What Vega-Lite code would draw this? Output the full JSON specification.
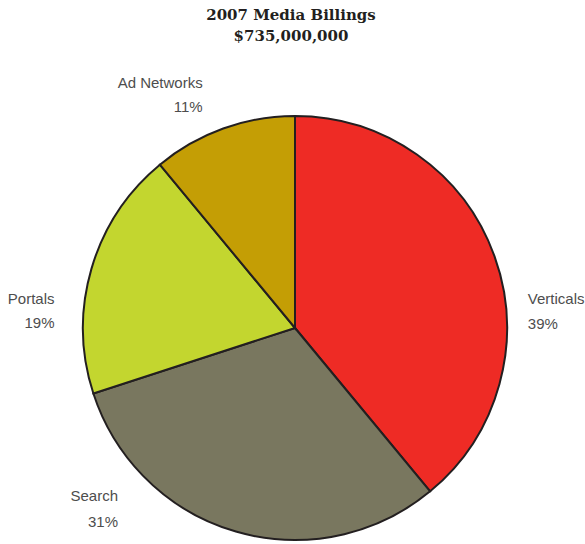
{
  "$schema": "https://vega.github.io/schema/vega-lite/v6.json",
  "autosize": {"type": "none"},
  "width": 580,
  "height": 432,
  "padding": {"left": 5, "top": 112, "right": 0, "bottom": 0},
  "background": "white",
  "title": {
    "text": ["2007 Media Billings", "$735,000,000"],
    "font": "DejaVu Serif",
    "fontWeight": "bold",
    "fontSize": 15,
    "lineHeight": 21,
    "color": "#231f20",
    "offset": -11,
    "dx": -4
  },
  "data": {
    "values": [
      {"name": "Verticals", "share": 0.39},
      {"name": "Search", "share": 0.31},
      {"name": "Portals", "share": 0.19},
      {"name": "Ad Networks", "share": 0.11}
    ]
  },
  "encoding": {
    "theta": {"field": "share", "type": "quantitative", "stack": true},
    "order": {"field": "share", "type": "quantitative", "sort": "descending"}
  },
  "layer": [
    {
      "mark": {"type": "arc", "radius": 212, "stroke": "#231f20", "strokeWidth": 2},
      "encoding": {
        "color": {
          "field": "name",
          "type": "nominal",
          "scale": {
            "domain": ["Verticals", "Search", "Portals", "Ad Networks"],
            "range": ["#ee2b25", "#79775f", "#c3d62f", "#c49e05"]
          },
          "legend": null
        }
      }
    },
    {
      "mark": {"type": "text", "radius": 240, "align": "left", "baseline": "alphabetic", "font": "Liberation Sans", "fontSize": 15, "color": "#4d4d4d", "dx": 7, "dy": 57},
      "encoding": {"text": {"condition": {"test": "datum.name === 'Verticals'", "field": "name"}, "value": ""}}
    },
    {
      "mark": {"type": "text", "radius": 240, "align": "left", "baseline": "alphabetic", "font": "Liberation Sans", "fontSize": 15, "color": "#4d4d4d", "dx": 7, "dy": 82},
      "encoding": {"text": {"condition": {"test": "datum.name === 'Verticals'", "field": "share", "type": "quantitative", "format": ".0%"}, "value": ""}}
    },
    {
      "mark": {"type": "text", "radius": 240, "align": "right", "baseline": "alphabetic", "font": "Liberation Sans", "fontSize": 15, "color": "#4d4d4d", "dx": -110, "dy": -57},
      "encoding": {"text": {"condition": {"test": "datum.name === 'Search'", "field": "name"}, "value": ""}}
    },
    {
      "mark": {"type": "text", "radius": 240, "align": "right", "baseline": "alphabetic", "font": "Liberation Sans", "fontSize": 15, "color": "#4d4d4d", "dx": -110, "dy": -31},
      "encoding": {"text": {"condition": {"test": "datum.name === 'Search'", "field": "share", "type": "quantitative", "format": ".0%"}, "value": ""}}
    },
    {
      "mark": {"type": "text", "radius": 240, "align": "right", "baseline": "alphabetic", "font": "Liberation Sans", "fontSize": 15, "color": "#4d4d4d", "dx": -10, "dy": 43},
      "encoding": {"text": {"condition": {"test": "datum.name === 'Portals'", "field": "name"}, "value": ""}}
    },
    {
      "mark": {"type": "text", "radius": 240, "align": "right", "baseline": "alphabetic", "font": "Liberation Sans", "fontSize": 15, "color": "#4d4d4d", "dx": -10, "dy": 67},
      "encoding": {"text": {"condition": {"test": "datum.name === 'Portals'", "field": "share", "type": "quantitative", "format": ".0%"}, "value": ""}}
    },
    {
      "mark": {"type": "text", "radius": 240, "align": "right", "baseline": "alphabetic", "font": "Liberation Sans", "fontSize": 15, "color": "#4d4d4d", "dx": -11, "dy": -14},
      "encoding": {"text": {"condition": {"test": "datum.name === 'Ad Networks'", "field": "name"}, "value": ""}}
    },
    {
      "mark": {"type": "text", "radius": 240, "align": "right", "baseline": "alphabetic", "font": "Liberation Sans", "fontSize": 15, "color": "#4d4d4d", "dx": -11, "dy": 10},
      "encoding": {"text": {"condition": {"test": "datum.name === 'Ad Networks'", "field": "share", "type": "quantitative", "format": ".0%"}, "value": ""}}
    }
  ],
  "config": {"view": {"stroke": null}}
}
